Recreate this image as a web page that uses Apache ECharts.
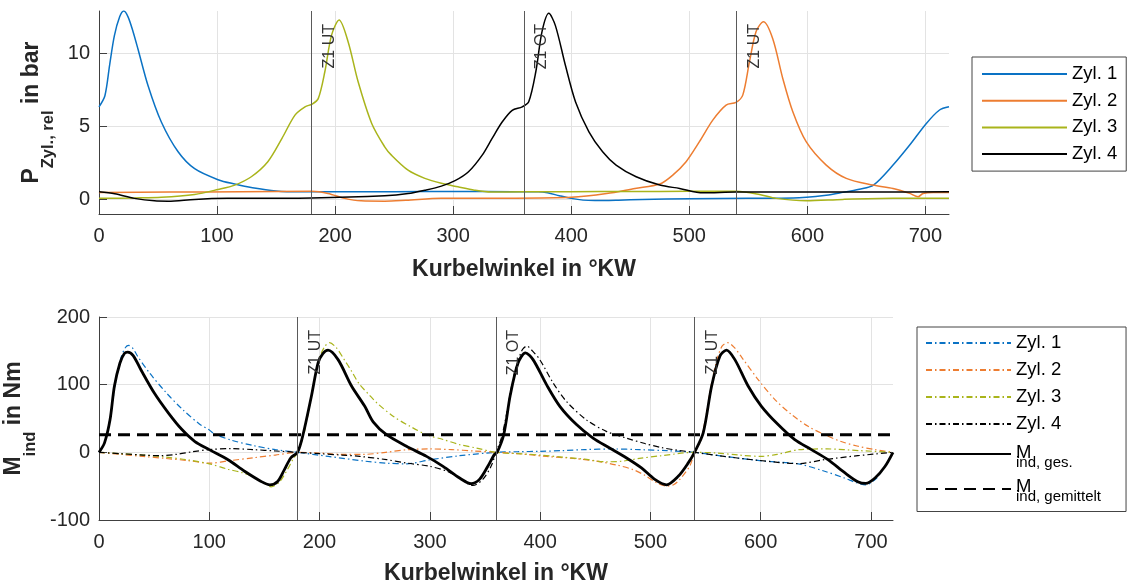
<!DOCTYPE html>
<html><head><meta charset="utf-8">
<script src="https://cdn.jsdelivr.net/npm/echarts@6/dist/echarts.min.js"></script>
<style>html,body{margin:0;padding:0;background:#fff}#c{width:1128px;height:585px}</style>
</head><body><div id="c"></div>
<script>
// ---------- data ----------
const xTickValues = [0, 100, 200, 300, 400, 500, 600, 700];
const topYTicks = [0, 5, 10];
const bottomYTicks = [-100, 0, 100, 200];
const markerAngles = [180, 360, 540];
const markerLabels = ['Z1 UT', 'Z1 OT', 'Z1 UT'];
const cylNames = ['Zyl. 1', 'Zyl. 2', 'Zyl. 3', 'Zyl. 4'];
const torqueNames = ['M Zyl. 1', 'M Zyl. 2', 'M Zyl. 3', 'M Zyl. 4', 'M ges', 'M gemittelt'];

// relative cylinder pressure, bar  [crank angle °KW, value]
const pZyl1 = [[0,6.34],[5,7.1],[9,9.2],[13,11.2],[17.5,12.5],[21,12.9],[24.6,12.5],[28.8,11.5],[33,10.3],[41.5,7.8],[52.8,5.3],[67,3.26],[81,2.1],[100.8,1.35],[115,1.05],[130,0.8],[150,0.58],[170,0.52],[200,0.52],[250,0.53],[300,0.54],[350,0.53],[372,0.52],[380,0.45],[390,0.25],[400,0.07],[410,-0.05],[420,-0.08],[440,-0.05],[460,0.0],[500,0.05],[550,0.08],[588,0.1],[616,0.29],[630,0.48],[644,0.7],[656,0.98],[672.6,2.35],[686.7,3.72],[700.8,5.2],[712,6.12],[720,6.34]];
const pZyl2 = [[0,0.48],[60,0.5],[120,0.52],[180,0.55],[194,0.41],[208,0.07],[222,-0.1],[242,-0.12],[260,-0.06],[290,0.07],[340,0.08],[400,0.15],[430,0.4],[454,0.75],[475,1.05],[486,1.66],[497.3,2.58],[508.6,3.95],[519.9,5.43],[531.2,6.46],[539.6,6.64],[545.3,7.14],[551,9.43],[556.6,11.5],[562.8,12.16],[570.7,11.0],[579.2,8.28],[587.7,6.0],[599,3.95],[616,2.35],[633,1.44],[655.5,0.98],[672.6,0.75],[686.7,0.41],[693.8,0.18],[698,0.41],[706.6,0.48],[720,0.48]];
const pZyl3 = [[0,0.07],[30,0.1],[52.8,0.14],[81,0.34],[100.8,0.68],[115,0.98],[129,1.55],[143,2.58],[155,4.18],[166,5.77],[174.5,6.34],[180.6,6.53],[185.7,6.9],[191.3,8.74],[197,11.25],[203.4,12.28],[211,10.8],[219.5,8.05],[231,5.2],[242,3.6],[247.7,3.03],[261.8,2.0],[276,1.44],[290,1.1],[304,0.86],[318,0.63],[332,0.5],[360,0.52],[400,0.53],[450,0.54],[500,0.55],[540,0.55],[559.5,0.34],[573.6,0.07],[599,-0.1],[630,0.0],[672.6,0.07],[720,0.07]];
const pZyl4 = [[0,0.52],[13.3,0.38],[30,0.07],[47,-0.1],[58.5,-0.12],[81,0.0],[109,0.07],[180,0.1],[242,0.25],[261.8,0.4],[276,0.63],[290,0.91],[301.6,1.28],[313,1.89],[324.6,3.03],[333,4.18],[341.5,5.3],[350,6.1],[358.5,6.34],[364,6.69],[370,8.74],[375.3,11.5],[381,12.74],[386.6,11.9],[395,9.2],[403.6,6.69],[415,4.63],[426.6,3.26],[438,2.35],[455,1.55],[475,0.98],[491.8,0.75],[511.6,0.45],[540,0.5],[600,0.5],[660,0.5],[720,0.52]];

// indicated torque, Nm  [crank angle °KW, value]
const mZyl1 = [[0,0],[5,14],[10,50],[15,103],[20,140],[24,155],[27,158],[31,153],[35,142],[46,117],[61,88],[76,63],[91,42],[100,33],[105,27],[120,18],[140,10],[160,4],[180,0],[208,-6],[241,-13],[261,-16],[279,-17],[300,-11],[327,-5],[360,0],[380,1],[400,1.5],[420,2.5],[440,4],[466,5],[490,4],[515,2.5],[540,0],[567,-6],[604,-13],[634,-17],[658,-28],[676,-38],[687,-45],[695,-48],[704,-40],[712,-22],[720,0]];
const mZyl2 = [[0,0],[20,-3],[40,-6],[60,-9],[80,-12],[100,-16],[120,-12],[140,-8],[160,-4],[180,0],[200,-1],[220,-3],[240,-3],[260,0],[280,4],[300,5],[320,4],[340,2],[360,0],[380,-2],[405.8,-6],[430,-9],[451,-13],[470,-19],[484.4,-25.6],[495,-34],[505.6,-45],[514.6,-50],[521,-48],[526.7,-40],[535.8,-20],[540,0],[545,14],[550,50],[555,98],[560,135],[565,157],[570,162],[576,155],[583,140],[597.7,107.5],[612.9,78],[628,55.8],[643,38.5],[658,26],[673,16],[688.4,9],[703.6,4],[720,0]];
const mZyl3 = [[0,0],[20,-2],[40,-4],[60,-7],[80,-11],[100,-17],[117,-25],[130,-30],[140,-36],[150,-46],[156,-51],[163,-45],[170,-28],[176,-10],[180,0],[185,22],[190,60],[195,105],[200,140],[205,157],[209,162],[215,155],[222,138],[229,120],[236,101],[245,85],[252,73],[267,53],[282,38.5],[297,26],[312,19],[327,11.4],[342,6.4],[360,0],[380,-2],[400,-4],[420,-7],[440,-10],[460,-14],[475,-13],[490,-9],[510,-5],[540,0],[560,-1],[580,-4],[600,-6],[615,-3],[635,4],[660,5],[690,2.5],[720,0]];
const mZyl4 = [[0,0],[20,-2],[40,-4],[55,-5],[70,-3],[85,1],[100,4],[120,5.5],[140,4],[160,2],[180,0],[200,-2],[220,-4],[236.5,-6],[260.7,-10.8],[278.8,-15.8],[300,-20.7],[315.6,-28],[327,-38],[339,-49],[348,-40],[355.5,-20.7],[360,0],[365,22],[370,60],[375,105],[380,135],[384,152],[388,157],[393,150],[399.7,137],[411.8,102.6],[424,75],[442,48],[460,31],[478.4,21],[495,13],[510,7],[525,3],[540,0],[567,-6],[597.7,-11.8],[634,-16.7],[658,-10.8],[688,-5],[720,0]];
const mGes = [[0,0],[5,14],[10,48],[14,98],[19,132],[23,146],[26,148],[31,143],[38,122],[50,88],[63,58],[75,34],[87,16],[100,4],[117,-11],[132,-28],[147,-43],[155,-48],[162,-43],[168,-26],[174,-8],[180,0],[185,26],[192.6,83],[198.6,132],[203,146],[207.7,151],[216.8,137],[229,98],[241,68],[248.6,45],[260.7,26],[278.8,9],[297,-6],[312,-20.7],[327,-38],[337.5,-46.3],[345,-40],[352.6,-20.7],[358.6,-3],[361,0],[367,26],[373,85],[380,132],[386.7,147],[393.6,137],[405.8,100],[417.9,68],[433,41],[448,21],[463,6.5],[478.4,-8.3],[491.9,-23],[504,-40],[514.6,-48],[525.2,-35.5],[534.2,-16],[540,0],[547.9,28.7],[555.5,97.6],[563,142],[569,151],[576.6,137],[588.6,98],[600.7,68],[615.8,41],[630.9,18.8],[646,4],[661,-10.8],[676.5,-30.5],[688.6,-44],[695.3,-46],[703.7,-38],[712.7,-21],[720,0]];
const mMean = 26;

// ---------- styling ----------
const FONT = '"Liberation Sans", Arial, Helvetica, sans-serif';
const colors = ['#0a72c4', '#ed7d31', '#a9b41b', '#000000'];
const AX = '#404040';
const dashDot = [6, 3, 1.5, 3];

function xAxisCfg(gi, gap) {
  return {
    type: 'value', gridIndex: gi, min: 0, max: 720,
    axisLine: { show: true, onZero: false, lineStyle: { color: AX, width: 1 } },
    axisTick: { show: true, inside: true, length: 8, customValues: xTickValues, lineStyle: { color: AX } },
    axisLabel: { customValues: xTickValues, fontSize: 20, color: '#262626', margin: 12, fontFamily: FONT },
    splitLine: { show: true, lineStyle: { color: '#e3e3e3', width: 1 } },
    name: 'Kurbelwinkel in °KW', nameLocation: 'middle', nameGap: gap,
    nameTextStyle: { fontSize: 23, fontWeight: 'bold', color: '#262626', fontFamily: FONT, lineHeight: 26 }
  };
}
const richName = {
  b: { fontSize: 23, fontWeight: 'bold', color: '#262626', fontFamily: FONT, lineHeight: 26, verticalAlign: 'top' },
  s: { fontSize: 16.5, fontWeight: 'bold', color: '#262626', fontFamily: FONT, lineHeight: 16, padding: [19.5, 0, 0, 0], verticalAlign: 'top' }
};
function yAxisCfg(gi, min, max, ticks, name, gap) {
  return {
    type: 'value', gridIndex: gi, min: min, max: max,
    axisLine: { show: true, lineStyle: { color: AX, width: 1 } },
    axisTick: { show: true, inside: true, length: 8, customValues: ticks, lineStyle: { color: AX } },
    axisLabel: { customValues: ticks, fontSize: 20, color: '#262626', margin: 9, fontFamily: FONT },
    splitLine: { show: true, lineStyle: { color: '#e3e3e3', width: 1 } },
    name: name, nameLocation: 'middle', nameGap: gap,
    nameTextStyle: { rich: richName }
  };
}
function markLineCfg() {
  return {
    silent: true, symbol: 'none', animation: false,
    lineStyle: { color: '#5a5a5a', width: 1, type: 'solid' },
    label: { show: true, position: 'insideEndBottom', distance: [13, 10], fontSize: 16, color: '#333', fontFamily: FONT },
    data: markerAngles.map((a, i) => ({ xAxis: a, label: { formatter: markerLabels[i] } }))
  };
}

const series = [];
[pZyl1, pZyl2, pZyl3, pZyl4].forEach((d, i) => {
  const s = {
    name: cylNames[i], type: 'line', xAxisIndex: 0, yAxisIndex: 0, data: d,
    showSymbol: false, symbol: 'none', smooth: 0.3, animation: false,
    lineStyle: { color: colors[i], width: 1.5 }, itemStyle: { color: colors[i] }
  };
  if (i === 0) s.markLine = markLineCfg();
  series.push(s);
});
[mZyl1, mZyl2, mZyl3, mZyl4].forEach((d, i) => {
  const s = {
    name: torqueNames[i], type: 'line', xAxisIndex: 1, yAxisIndex: 1, data: d,
    showSymbol: false, symbol: 'none', smooth: 0.3, animation: false,
    lineStyle: { color: colors[i], width: 1.2, type: dashDot }, itemStyle: { color: colors[i] }
  };
  if (i === 0) s.markLine = markLineCfg();
  series.push(s);
});
series.push({
  name: torqueNames[4], type: 'line', xAxisIndex: 1, yAxisIndex: 1, data: mGes,
  showSymbol: false, symbol: 'none', smooth: 0.3, animation: false,
  lineStyle: { color: '#000', width: 2.8 }, itemStyle: { color: '#000' }
});
series.push({
  name: torqueNames[5], type: 'line', xAxisIndex: 1, yAxisIndex: 1, data: [[0, mMean], [720, mMean]],
  showSymbol: false, symbol: 'none', animation: false,
  lineStyle: { color: '#000', width: 2.8, type: [12, 7] }, itemStyle: { color: '#000' }
});

const legendLabels = {
  'M Zyl. 1': 'Zyl. 1', 'M Zyl. 2': 'Zyl. 2', 'M Zyl. 3': 'Zyl. 3', 'M Zyl. 4': 'Zyl. 4',
  'M ges': '{sp| }\n{M5|M}\n{s5|ind, ges.}',
  'M gemittelt': '{M6|M}\n{s6|ind, gemittelt}'
};
const legendText = { fontSize: 18.5, color: '#000', fontFamily: FONT, lineHeight: 20 };

const option = {
  backgroundColor: '#fff',
  animation: false,
  grid: [
    { left: 99, top: 11, width: 850, height: 203, outerBoundsMode: 'none', containLabel: false },
    { left: 99, top: 317, width: 794, height: 203, outerBoundsMode: 'none', containLabel: false }
  ],
  xAxis: [xAxisCfg(0, 43), xAxisCfg(1, 41)],
  yAxis: [
    yAxisCfg(0, -1, 12.9, topYTicks, '{b|P}{s|Zyl., rel}{b| in bar}', 40),
    yAxisCfg(1, -100, 200, bottomYTicks, '{b|M}{s|ind}{b| in Nm}', 58)
  ],
  legend: [
    {
      data: cylNames, orient: 'vertical', left: 972, top: 57,
      padding: [7, 9, 7, 9], itemGap: 6.7, itemWidth: 85, itemHeight: 14,
      borderColor: '#444', borderWidth: 1, backgroundColor: '#fff',
      itemStyle: { opacity: 0 },
      selectedMode: false, textStyle: legendText
    },
    {
      data: torqueNames, orient: 'vertical', left: 917, top: 327,
      padding: [6, 25, 7, 8], itemGap: 7, itemWidth: 85, itemHeight: 14,
      borderColor: '#444', borderWidth: 1, backgroundColor: '#fff',
      itemStyle: { opacity: 0 },
      selectedMode: false,
      formatter: n => legendLabels[n],
      textStyle: Object.assign({}, legendText, {
        rich: {
          sp: { fontSize: 6, fontFamily: FONT, color: '#fff', lineHeight: 4 },
          M5: { fontSize: 18.5, fontFamily: FONT, color: '#000', lineHeight: 14 },
          s5: { fontSize: 15, fontFamily: FONT, color: '#000', lineHeight: 6 },
          M6: { fontSize: 18.5, fontFamily: FONT, color: '#000', lineHeight: 16 },
          s6: { fontSize: 15, fontFamily: FONT, color: '#000', lineHeight: 4 }
        }
      })
    }
  ],
  series: series
};

const chart = echarts.init(document.getElementById('c'), null, { renderer: 'canvas', devicePixelRatio: 1 });
chart.setOption(option);
</script>
</body></html>
